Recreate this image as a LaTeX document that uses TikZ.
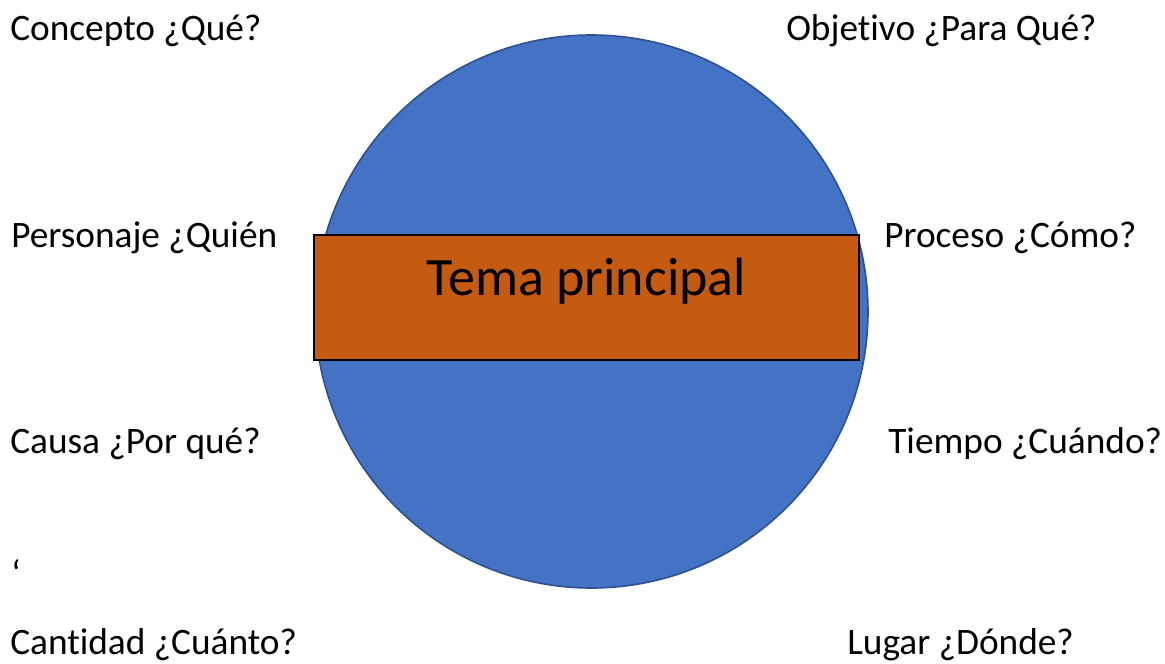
\documentclass[tikz,border=0pt]{standalone}
\usepackage{fontspec}
\setmainfont[Ligatures=CommonOff]{Carlito}
\definecolor{azulcirculo}{HTML}{4472C4}
\definecolor{bordecirculo}{HTML}{2F528F}
\definecolor{naranjatema}{HTML}{C55A11}
\tikzset{
	pregunta/.style={anchor=base west, inner sep=0pt,
		font=\fontsize{28}{33}\selectfont},
}
\begin{document}
\begin{tikzpicture}[x=0.75pt, y=-0.75pt]
		\useasboundingbox (0,0) rectangle (1165,664);
		\node (circulo) [circle, draw=bordecirculo, fill=azulcirculo,
			line width=1.2pt, minimum size=414.75pt, inner sep=0pt]
			at (591.5,311.5) {};
		\node (tema) [rectangle, draw=black, fill=naranjatema,
			line width=1.5pt, inner sep=0pt, minimum width=408.75pt,
			text height=45pt, text depth=48.75pt,
			font=\fontsize{40.5}{48}\selectfont]
			at (586.5,297.5) {Tema principal};
		\foreach\nombre/\x/\y/\texto in{
			concepto/10/40/Concepto ¿Qué?,
			objetivo/786/40/Objetivo ¿Para Qué?,
			personaje/11/247/Personaje ¿Quién,
			proceso/884/247/Proceso ¿Cómo?,
			causa/10/453/Causa ¿Por qué?,
			tiempo/888/453/Tiempo ¿Cuándo?,
			comilla/11/586/‘,
			cantidad/10/654/Cantidad ¿Cuánto?,
			lugar/847/654/Lugar ¿Dónde?
		}{
			\node[pregunta] (\nombre) at (\x,\y) {\texto};
		}
	\end{tikzpicture}
\end{document}
